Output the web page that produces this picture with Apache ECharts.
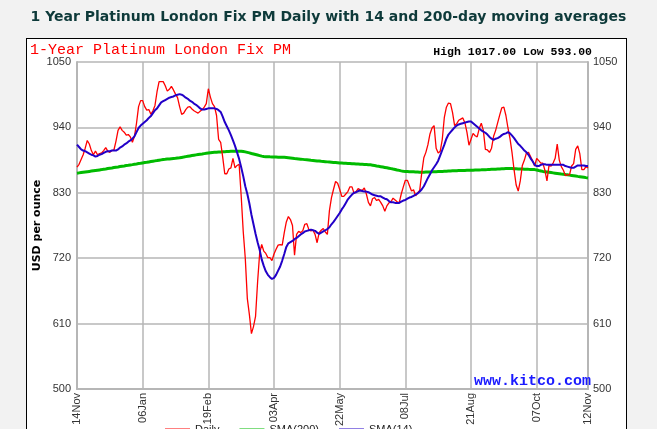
<!DOCTYPE html>
<html><head><meta charset="utf-8">
<script src="https://cdn.jsdelivr.net/npm/echarts@6/dist/echarts.min.js"></script>
<style>
html,body{margin:0;padding:0;background:#f2f2f2;overflow:hidden;}
#box{position:absolute;left:26px;top:38px;width:599px;height:420px;background:#fff;border:1px solid #000;}
#chart{position:absolute;left:0;top:0;width:657px;height:429px;}
</style></head><body><div id="box"></div><div id="chart"></div>
<script>
const tickLabels = ['14Nov','06Jan','19Feb','03Apr','22May','08Jul','21Aug','07Oct','12Nov'];
const tickIndex = [0,32,64,96,128,160,192,224,249];
const yTicks = [500,610,720,830,940,1050];
const daily = [
873,878,886,894,905,918,912,901,894,900,
894,896,897,901,906,900,898,901,902,917,
935,941,935,932,927,928,924,915,925,947,
975,985,985,975,969,970,962,968,977,1000,
1017,1017,1017,1010,1001,1004,1009,1003,996,990,
975,962,964,970,974,975,971,968,966,964,
967,970,974,980,1005,991,980,975,960,920,
915,890,862,862,870,872,888,872,876,878,
825,765,720,652,625,593,605,622,680,728,
743,732,728,721,721,716,727,735,742,743,
742,763,781,790,785,775,725,760,765,763,
766,777,778,768,766,767,760,746,763,767,
770,764,760,800,822,836,849,846,836,824,
824,828,832,840,840,829,832,837,835,834,
838,828,814,808,820,822,817,819,814,808,
799,808,813,815,821,818,815,813,828,840,
851,851,842,833,835,825,830,834,864,889,
898,911,929,939,943,905,897,900,920,957,
974,981,980,965,943,946,952,954,956,948,
932,910,920,930,926,924,938,947,935,903,
902,898,905,925,935,948,961,973,974,960,
939,921,897,868,843,833,850,876,885,897,
898,891,884,875,888,884,880,880,868,850,
876,875,880,888,912,885,874,868,859,860,
860,875,879,903,909,896,869,869,874,872];
const sma14 = [
911,907,903,901,900,898,896,894,893,891,
892,894,895,897,899,900,900,901,901,901,
903,906,908,911,913,916,918,921,925,932,
939,943,946,949,952,956,959,964,969,972,
977,982,984,986,988,990,991,992,994,995,
996,995,993,990,988,985,983,980,978,975,
972,970,970,971,972,972,972,972,971,969,
966,958,949,942,935,927,918,909,898,887,
873,858,841,828,812,793,777,761,747,734,
718,707,698,692,688,685,687,692,699,706,
716,727,739,745,747,749,752,754,757,760,
762,765,766,767,768,767,766,763,761,763,
765,767,769,772,777,781,786,791,796,802,
807,813,819,823,827,830,831,833,834,833,
832,832,831,829,827,826,825,824,824,822,
820,819,816,814,814,813,813,813,815,817,
818,820,822,823,825,827,829,832,836,841,
848,855,861,868,873,878,884,893,902,911,
921,928,932,936,940,943,945,946,947,948,
949,950,950,947,944,941,938,935,933,931,
928,924,921,919,921,922,924,927,929,930,
932,930,926,922,917,912,909,905,901,898,
894,888,883,877,875,875,877,878,878,877,
877,877,877,877,877,877,877,877,875,874,
873,872,872,874,876,876,876,876,875,875];
const sma200 = [
863,863.5,864,864.5,865,865.5,866,866.5,867,867.5,
868,868.5,869,869.6,870.1,870.7,871.3,871.8,872.4,873,
873.5,874.1,874.7,875.2,875.8,876.3,876.9,877.4,878,878.5,
879.1,879.6,880.2,880.8,881.3,881.9,882.5,883.1,883.7,884.2,
884.8,885.4,886,886.3,886.7,887,887.4,887.8,888.1,888.5,
888.9,889.5,890.1,890.8,891.4,892,892.6,893.2,893.8,894.3,
894.8,895.3,895.9,896.4,896.9,897.4,897.9,898.1,898.3,898.5,
898.7,898.9,899.1,899.3,899.5,899.7,899.8,899.9,900,900,
900,899.5,898.8,898,897.2,896.2,895.3,894.4,893.5,892.6,
891.7,891,890.8,890.7,890.5,890.4,890.2,890.1,889.9,889.8,
889.7,889.6,889.3,888.9,888.5,888.1,887.7,887.4,887,886.6,
886.2,885.8,885.5,885.1,884.7,884.4,884,883.6,883.3,882.9,
882.6,882.3,882,881.7,881.4,881.1,880.8,880.5,880.1,880,
879.8,879.6,879.4,879.2,878.9,878.7,878.5,878.3,878.1,877.9,
877.7,877.5,877.2,877,876.4,875.8,875.1,874.5,873.9,873.3,
872.7,872.1,871.4,870.7,869.9,869.2,868.4,867.7,866.9,866.2,
866,865.8,865.6,865.4,865.3,865.1,864.9,864.6,864.5,864.6,
864.8,864.9,865.1,865.2,865.4,865.5,865.7,865.8,866,866.2,
866.3,866.5,866.7,866.9,867,867.1,867.3,867.4,867.5,867.6,
867.8,867.9,868,868.1,868.3,868.4,868.5,868.6,868.8,868.9,
869,869.2,869.4,869.6,869.8,870,870.2,870.4,870.6,870.8,
871,870.8,870.7,870.5,870.4,870.2,870,869.9,869.7,869.6,
869.4,869.3,869.1,869,868.3,867.5,866.8,866,865.5,865,
864.5,864,863.5,863,862.5,862,861.5,861.1,860.6,860.2,
859.7,859.2,858.7,858.2,857.6,857.1,856.6,856.1,855.5,855];
const categories = daily.map((_, i) => String(i));

const labelMap = {};
tickIndex.forEach((ix, k) => { labelMap[ix] = tickLabels[k]; });
const isTick = (i) => labelMap[i] !== undefined;
const gridColor = '#b6b6b6';
const axisFont = {fontFamily:'Liberation Sans', fontSize:11, color:'#333'};
const plainNum = (v) => String(v);

const chart = echarts.init(document.getElementById('chart'));
chart.setOption({
  animation:false,
  title:[
    {text:'1 Year Platinum London Fix PM Daily with 14 and 200-day moving averages', left:'center', top:5,
     textStyle:{fontFamily:'DejaVu Sans', fontWeight:'bold', fontSize:14, color:'#0e3a3a'}},
    {text:'1-Year Platinum London Fix PM', left:25, top:38,
     textStyle:{fontFamily:'Liberation Mono', fontWeight:'normal', fontSize:15, color:'#ff0000'}},
    {text:'High 1017.00 Low 593.00', right:60, top:41,
     textStyle:{fontFamily:'Liberation Mono', fontWeight:'bold', fontSize:11.5, color:'#000'}}
  ],
  legend:{left:165, top:424, padding:0, itemGap:20, itemWidth:25, itemHeight:2, icon:'rect',
    textStyle:{fontFamily:'Liberation Sans', fontSize:11, color:'#222'},
    data:['Daily','SMA(200)','SMA(14)']},
  graphic:[{type:'text', right:66, top:374, z:100,
    style:{text:'www.kitco.com', fill:'#1a1aff', font:'bold 15px "Liberation Mono"'}}],
  grid:{left:77, right:69, top:62, bottom:39},
  xAxis:{type:'category', data:categories, boundaryGap:false,
    axisLine:{lineStyle:{color:gridColor, width:2}},
    axisTick:{show:false},
    axisLabel:Object.assign({interval:(i)=>isTick(i), formatter:(v)=>labelMap[v]||'', rotate:90, margin:4}, axisFont),
    splitLine:{show:true, interval:(i)=>isTick(i), lineStyle:{color:gridColor, width:1.5}}},
  yAxis:[
    {type:'value', min:500, max:1050, position:'left',
     name:'USD per ounce', nameLocation:'middle', nameGap:34, nameRotate:90, nameMoveOverlap:false,
     nameTextStyle:{fontFamily:'DejaVu Sans', fontWeight:'bold', fontSize:11, color:'#000'},
     axisLine:{show:true, lineStyle:{color:gridColor, width:2}},
     axisTick:{show:false, customValues:yTicks},
     axisLabel:Object.assign({customValues:yTicks, margin:6, formatter:plainNum}, axisFont),
     splitLine:{show:true, lineStyle:{color:gridColor, width:1.5}}},
    {type:'value', min:500, max:1050, position:'right',
     axisLine:{show:true, lineStyle:{color:gridColor, width:2}},
     axisTick:{show:false, customValues:yTicks},
     axisLabel:Object.assign({customValues:yTicks, margin:5, formatter:plainNum}, axisFont),
     splitLine:{show:false}}
  ],
  series:[
    {name:'SMA(200)', type:'line', data:sma200, showSymbol:false, color:'#00bb00', lineStyle:{width:3, color:'#00bb00'}, z:2},
    {name:'Daily', type:'line', data:daily, showSymbol:false, color:'#ff0000', lineStyle:{width:1.3, color:'#ff0000'}, z:3},
    {name:'SMA(14)', type:'line', data:sma14, showSymbol:false, color:'#2200c8', lineStyle:{width:2, color:'#2200c8'}, z:4}
  ]
});
</script></body></html>
